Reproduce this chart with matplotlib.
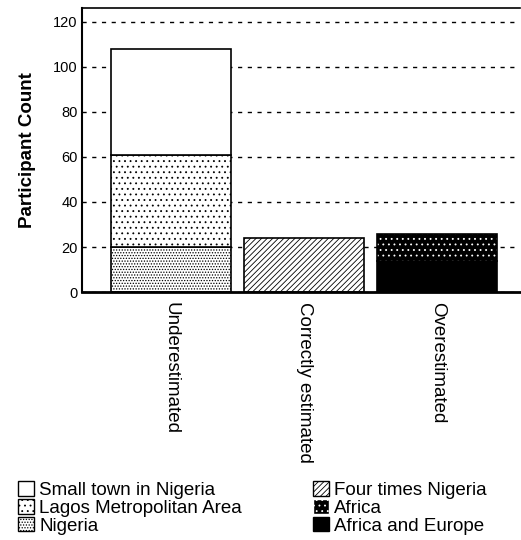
import numpy as np
import matplotlib
matplotlib.use('Agg')
import matplotlib.pyplot as plt
from matplotlib.patches import Patch

plt.rcParams['font.family'] = ['Liberation Sans', 'DejaVu Sans']
plt.rcParams['hatch.linewidth'] = 0.6

categories = ['Underestimated', 'Correctly estimated', 'Overestimated']
nigeria = [20, 0, 0]
lagos = [41, 0, 0]
small_town = [47, 0, 0]
four_times = [0, 24, 0]
africa_europe = [0, 0, 14]
africa = [0, 0, 12]

x = np.arange(len(categories))
w = 0.9

fig = plt.figure(figsize=(5.21, 5.4), dpi=100)
ax = fig.add_axes([0.157, 0.459, 0.841, 0.526])

ax.yaxis.grid(True, color='black', linestyle=(0, (3, 4)), linewidth=1.0)
ax.set_axisbelow(True)

# underestimated stack
ax.bar(x[0], nigeria[0], w, facecolor='white', edgecolor='black', hatch='......', linewidth=1.2)
ax.bar(x[0], lagos[0], w, bottom=nigeria[0], facecolor='white', edgecolor='black', hatch='...', linewidth=1.2)
ax.bar(x[0], small_town[0], w, bottom=nigeria[0] + lagos[0], facecolor='white', edgecolor='black', linewidth=1.2)
# correctly estimated
ax.bar(x[1], four_times[1], w, facecolor='white', edgecolor='black', hatch='//////', linewidth=1.2)
# overestimated
ax.bar(x[2], africa_europe[2], w, facecolor='black', edgecolor='black', linewidth=1.2)
ax.bar(x[2], africa[2], w, bottom=africa_europe[2], facecolor='black', edgecolor='white', hatch='...', linewidth=0)
ax.bar(x[2], africa[2], w, bottom=africa_europe[2], facecolor='none', edgecolor='black', linewidth=1.2)

ax.set_xlim(-0.667, 2.62)
ax.set_ylim(0, 126)
ax.set_yticks(np.arange(0, 121, 20))
ax.set_xticks(x)
ax.set_xticklabels(categories, rotation=270, fontsize=13.5, va='top', ha='center')
ax.tick_params(axis='y', length=0, labelsize=10.5, pad=3)
ax.tick_params(axis='x', length=0, pad=7)
ax.set_ylabel('Participant Count', fontsize=13.5, fontweight='bold', labelpad=12)

ax.spines['right'].set_visible(False)
ax.spines['bottom'].set_linewidth(2)
ax.spines['left'].set_linewidth(1.5)
ax.spines['top'].set_linewidth(1.2)

h1 = [Patch(facecolor='white', edgecolor='black', label='Small town in Nigeria'),
      Patch(facecolor='white', edgecolor='black', hatch='...', label='Lagos Metropolitan Area'),
      Patch(facecolor='white', edgecolor='black', hatch='......', label='Nigeria')]
h2 = [Patch(facecolor='white', edgecolor='black', hatch='//////', label='Four times Nigeria'),
      Patch(facecolor='black', edgecolor='white', hatch='...', label='Africa'),
      Patch(facecolor='black', edgecolor='black', label='Africa and Europe')]

leg_kw = dict(frameon=False, fontsize=13.5, handlelength=0.85, handleheight=0.85,
              handletextpad=0.3, labelspacing=0.0, borderaxespad=0, borderpad=0)
fig.legend(handles=h1, loc='upper left', bbox_to_anchor=(0.034, 0.11), **leg_kw)
fig.legend(handles=h2, loc='upper left', bbox_to_anchor=(0.600, 0.11), **leg_kw)

fig.savefig('out.png', dpi=100)
